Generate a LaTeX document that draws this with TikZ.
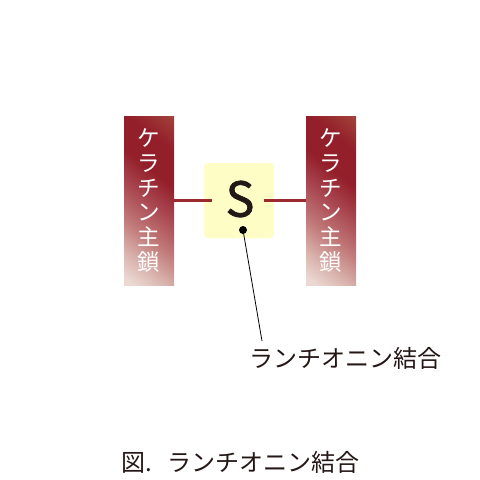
\documentclass[tikz,border=0pt]{standalone}
\usepackage{fontspec}
\setmainfont{Noto Sans CJK JP}
\newfontfamily\sulfont[FakeBold=1.6]{Noto Sans CJK JP}
\usepackage{tikz}
\usetikzlibrary{arrows.meta,positioning}

\definecolor{inkgray}{HTML}{231815}
\definecolor{barTop}{HTML}{A5493D}
\definecolor{barMid}{HTML}{931F2A}
\definecolor{barRed}{HTML}{A84650}
\definecolor{barRose}{HTML}{C07878}
\definecolor{barPink}{HTML}{D8B0AA}
\definecolor{barLow}{HTML}{EBD8D2}
\definecolor{bondred}{HTML}{9B2A2E}
\definecolor{sulfbox}{HTML}{FFFDC6}

\pgfdeclareverticalshading{keratin}{100bp}{color(0bp)=(barLow); color(29bp)=(barLow);
  color(35bp)=(barPink); color(42bp)=(barRose); color(50bp)=(barRed);
  color(57bp)=(barMid); color(65bp)=(barMid); color(74bp)=(barTop); color(100bp)=(barTop)}

\tikzset{
  chainbar/.style={rectangle, minimum width=50pt, minimum height=169pt,
    inner sep=0pt, text=white, align=center,
    font=\fontsize{22.5}{24.8}\selectfont,
    path picture={\shade[shading=keratin,
        transform canvas={rotate around={-38:(path picture bounding box.center)}}]
        ([shift={(-90,-90)}]path picture bounding box.center) rectangle ++(180,180);}},
  sbox/.style={rectangle, rounded corners=4pt, fill=sulfbox,
    minimum width=70pt, minimum height=75pt, inner sep=0pt},
  bond/.style={draw=bondred, line width=2.6pt},
  lbl/.style={text=inkgray, font=\fontsize{24}{28}\selectfont, inner sep=0pt}
}

\begin{document}
\begin{tikzpicture}[x=1pt,y=-1pt]
  \useasboundingbox (0,0) rectangle (480,480);
  % keratin chains and the sulfur box
  \node[chainbar] (left) at (149,200.5) {ケ\\ラ\\チ\\ン\\主\\鎖};
  \node[chainbar] (right) at (331,200.5) {ケ\\ラ\\チ\\ン\\主\\鎖};
  \node[sbox] (sul) at (239,200.5) {};
  \node[text=inkgray, font=\sulfont\fontsize{48}{48}\selectfont, inner sep=0pt] (S) at (240,199) {S};
  \draw[bond] (left.east) -- (212,200.5);
  \draw[bond] (264,200.5) -- (right.west);
  % pointer to the bond label
  \node[circle, fill=black, minimum size=8pt, inner sep=0pt] (dot) at (243,230) {};
  \node[lbl, anchor=west] (bondlbl) at (249,358) {ランチオニン結合};
  \coordinate (tip) at (262,341);
  \draw[line width=0.8pt] (dot.center) -- (tip);
  % caption
  \node[lbl, anchor=west] (cap) at (121,462) {図.\hspace{0.65em}ランチオニン結合};
\end{tikzpicture}
\end{document}
